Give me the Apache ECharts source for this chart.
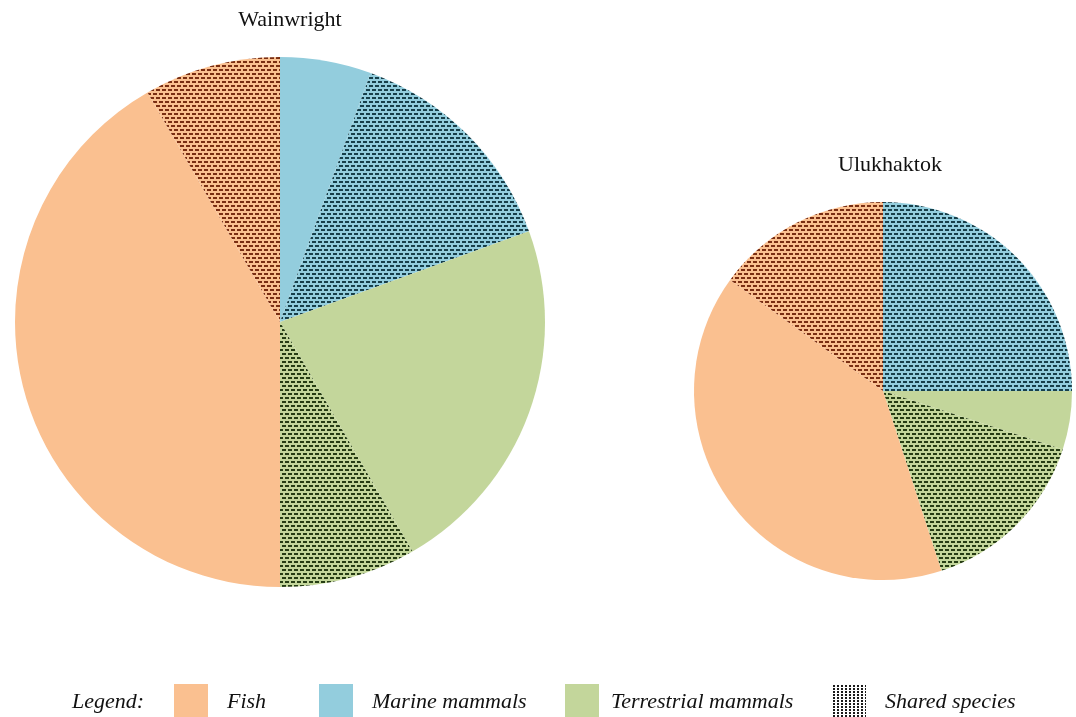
<!DOCTYPE html>
<html>
<head>
<meta charset="utf-8">
<style>
  html, body { margin: 0; padding: 0; background: #fff; }
  #chart { width: 1076px; height: 717px; }
</style>
<script src="https://cdn.jsdelivr.net/npm/echarts@6/dist/echarts.min.js"></script>
</head>
<body>
<div id="chart"></div>
<script>
// Species counts per group, split into community-specific and shared species
const groups = ['Marine mammals', 'Terrestrial mammals', 'Fish'];
const communities = ['Wainwright', 'Ulukhaktok'];
// [marine only, marine shared, terrestrial only, terrestrial shared, fish only, fish shared]
const wainwrightValues = [2, 5, 8, 3, 15, 3];
const ulukhaktokValues = [0, 5, 1, 3, 8, 3];
const legendLabels = ['Fish', 'Marine mammals', 'Terrestrial mammals', 'Shared species'];

const baseColors = { 'Fish': '#FAC090', 'Marine mammals': '#93CDDD', 'Terrestrial mammals': '#C3D69B' };
const dashColors = { 'Fish': '#7a2e12', 'Marine mammals': '#173f4a', 'Terrestrial mammals': '#263d14' };

// Brick-like staggered dash hatch on top of the group colour
function hatch(base, dash) {
  const c = document.createElement('canvas');
  c.width = 6; c.height = 8;
  const g = c.getContext('2d');
  g.fillStyle = base; g.fillRect(0, 0, 6, 8);
  g.fillStyle = dash;
  g.fillRect(0, 1, 4, 2);
  g.fillRect(3, 5, 3, 2);
  g.fillRect(0, 5, 1, 2);
  return { image: c, repeat: 'repeat' };
}
function dots() {
  const c = document.createElement('canvas');
  c.width = 4; c.height = 3;
  const g = c.getContext('2d');
  g.fillStyle = '#ffffff'; g.fillRect(0, 0, 4, 3);
  g.fillStyle = '#1a1a1a'; g.fillRect(1, 1, 2, 2);
  return { image: c, repeat: 'repeat' };
}

function buildData(values) {
  const out = [];
  groups.forEach((grp, i) => {
    out.push({ name: grp, value: values[i * 2], itemStyle: { color: baseColors[grp] } });
    out.push({ name: grp + ' (shared)', value: values[i * 2 + 1], itemStyle: { color: hatch(baseColors[grp], dashColors[grp]) } });
  });
  return out;
}

const serif = '"Liberation Serif", "DejaVu Serif", serif';
const chart = echarts.init(document.getElementById('chart'), null, { renderer: 'canvas' });

const pieCommon = {
  type: 'pie',
  startAngle: 90,
  clockwise: true,
  label: { show: false },
  labelLine: { show: false },
  emphasis: { disabled: true },
  silent: true,
  animation: false,
  itemStyle: { borderWidth: 0 }
};

// Legend row along the bottom
const legendItems = [
  { x: 174, fill: baseColors['Fish'], textX: 227 },
  { x: 319, fill: baseColors['Marine mammals'], textX: 372 },
  { x: 565, fill: baseColors['Terrestrial mammals'], textX: 611 },
  { x: 832, fill: dots(), textX: 885 }
];
const graphics = [
  { type: 'text', left: 72, top: 691, style: { text: 'Legend:', font: 'italic 22px ' + serif, fill: '#111' } }
];
legendItems.forEach((it, i) => {
  graphics.push({ type: 'rect', shape: { x: it.x, y: 684, width: 34, height: 40 }, style: { fill: it.fill } });
  graphics.push({ type: 'text', left: it.textX, top: 691, style: { text: legendLabels[i], font: 'italic 22px ' + serif, fill: '#111' } });
});

chart.setOption({
  backgroundColor: '#ffffff',
  animation: false,
  title: [
    { text: communities[0], left: 285, top: 4, textAlign: 'center', textStyle: { fontFamily: serif, fontWeight: 'normal', fontSize: 22, color: '#111' } },
    { text: communities[1], left: 885, top: 149, textAlign: 'center', textStyle: { fontFamily: serif, fontWeight: 'normal', fontSize: 22, color: '#111' } }
  ],
  series: [
    Object.assign({}, pieCommon, { name: communities[0], center: [280, 322], radius: [0, 265], data: buildData(wainwrightValues) }),
    Object.assign({}, pieCommon, { name: communities[1], center: [883, 391], radius: [0, 189], data: buildData(ulukhaktokValues) })
  ],
  graphic: graphics
});
</script>
</body>
</html>
